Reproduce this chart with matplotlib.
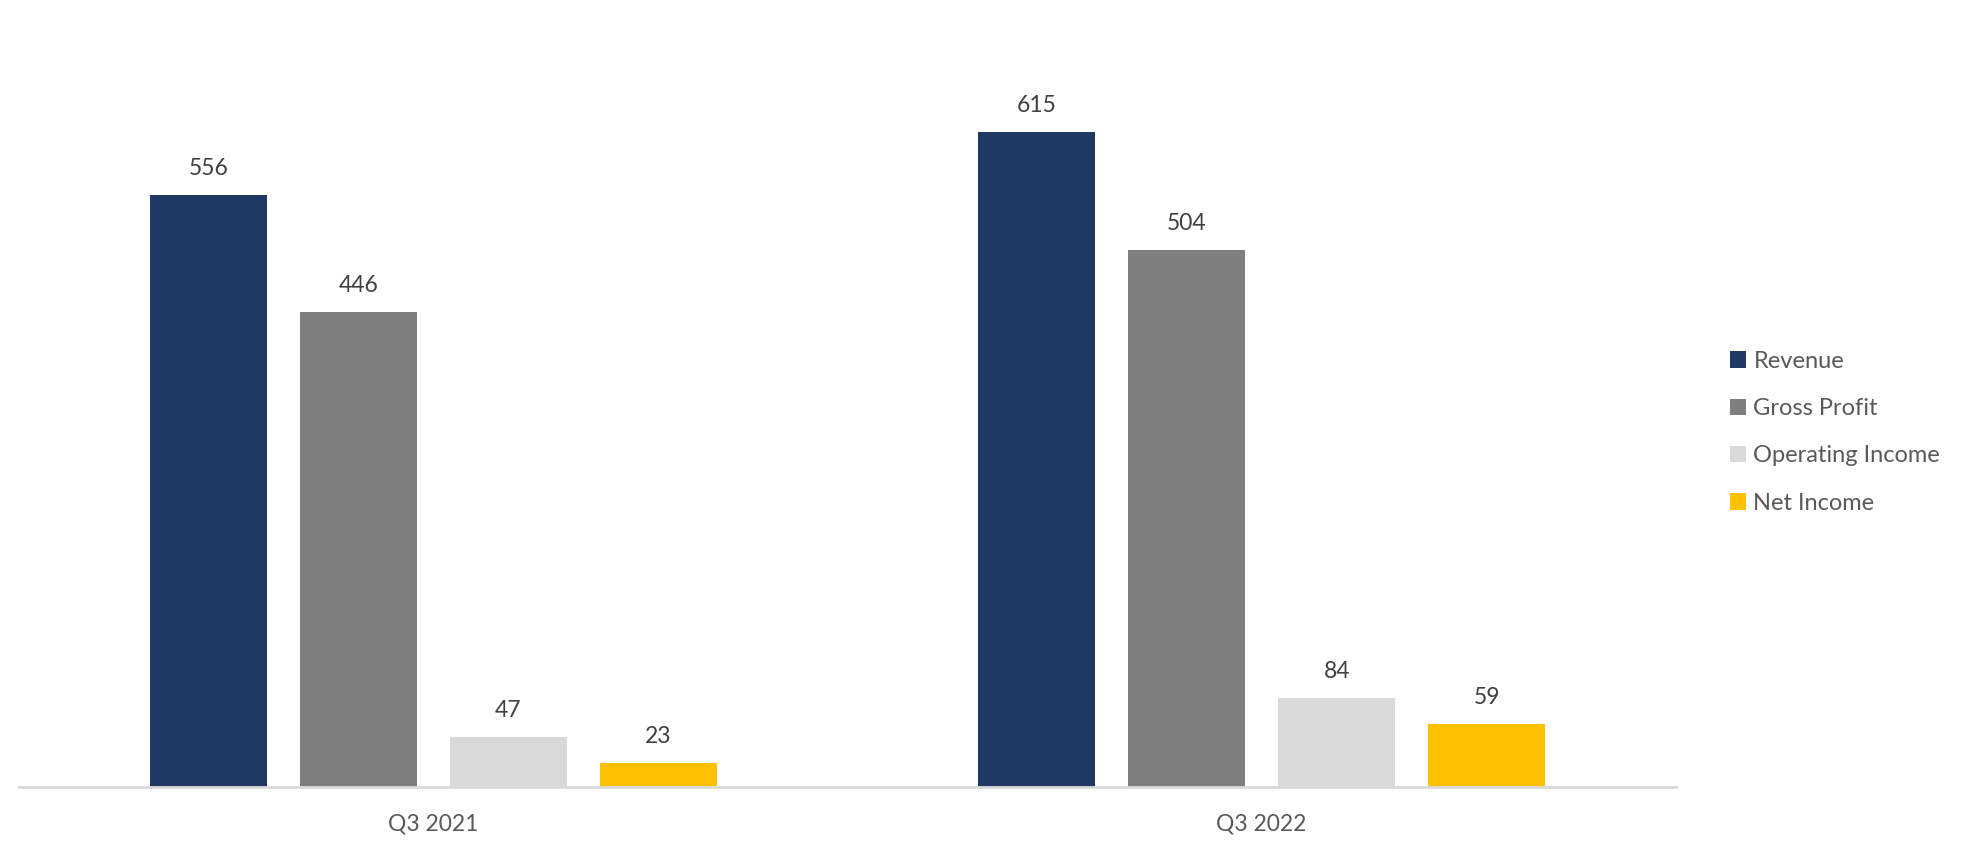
import matplotlib
matplotlib.use("Agg")
import matplotlib.pyplot as plt
import numpy as np
from matplotlib.patches import Patch

categories = ["Q3 2021", "Q3 2022"]
series_names = ["Revenue", "Gross Profit", "Operating Income", "Net Income"]
revenue = [556, 615]
gross_profit = [446, 504]
operating_income = [47, 84]
net_income = [23, 59]
colors = ["#203864", "#7F7F7F", "#D9D9D9", "#FFC000"]

plt.rcParams['font.family'] = ['Lato', 'DejaVu Sans']

fig = plt.figure(figsize=(19.69, 8.68), dpi=100)
ax = fig.add_axes([0.00965, 0.0933, 0.8415, 0.8587])

series = [revenue, gross_profit, operating_income, net_income]
x = np.arange(len(categories))
width = 0.1413
step = 0.181
offsets = (np.arange(4) - 1.5) * step

for i, (vals, name, col) in enumerate(zip(series, series_names, colors)):
    bars = ax.bar(x + offsets[i], vals, width=width, color=col, label=name, zorder=2)
    for b, v in zip(bars, vals):
        ax.text(b.get_x() + b.get_width() / 2, v + 15, f"{v}", ha="center", va="bottom",
                fontsize=16.5, color="#404040")

ax.set_xlim(-0.5, 1.5)
ax.set_ylim(0, 700)
ax.set_yticks([])
ax.set_xticks(x)
ax.set_xticklabels(categories, fontsize=16.5, color="#595959")
ax.tick_params(axis="x", length=0, pad=19)
for s in ["top", "right", "left"]:
    ax.spines[s].set_visible(False)
ax.spines["bottom"].set_color("#D9D9D9")
ax.spines["bottom"].set_linewidth(2)
ax.spines["bottom"].set_zorder(3)

handles = [Patch(facecolor=c, edgecolor="none") for c in colors]
leg = fig.legend(handles, series_names, loc="center left", bbox_to_anchor=(0.8785, 0.502),
                 frameon=False, fontsize=17, handlelength=0.7, handleheight=0.7,
                 handletextpad=0.3, labelspacing=1.12, borderpad=0, borderaxespad=0)
for t in leg.get_texts():
    t.set_color("#595959")

fig.savefig("out.png", dpi=100)
